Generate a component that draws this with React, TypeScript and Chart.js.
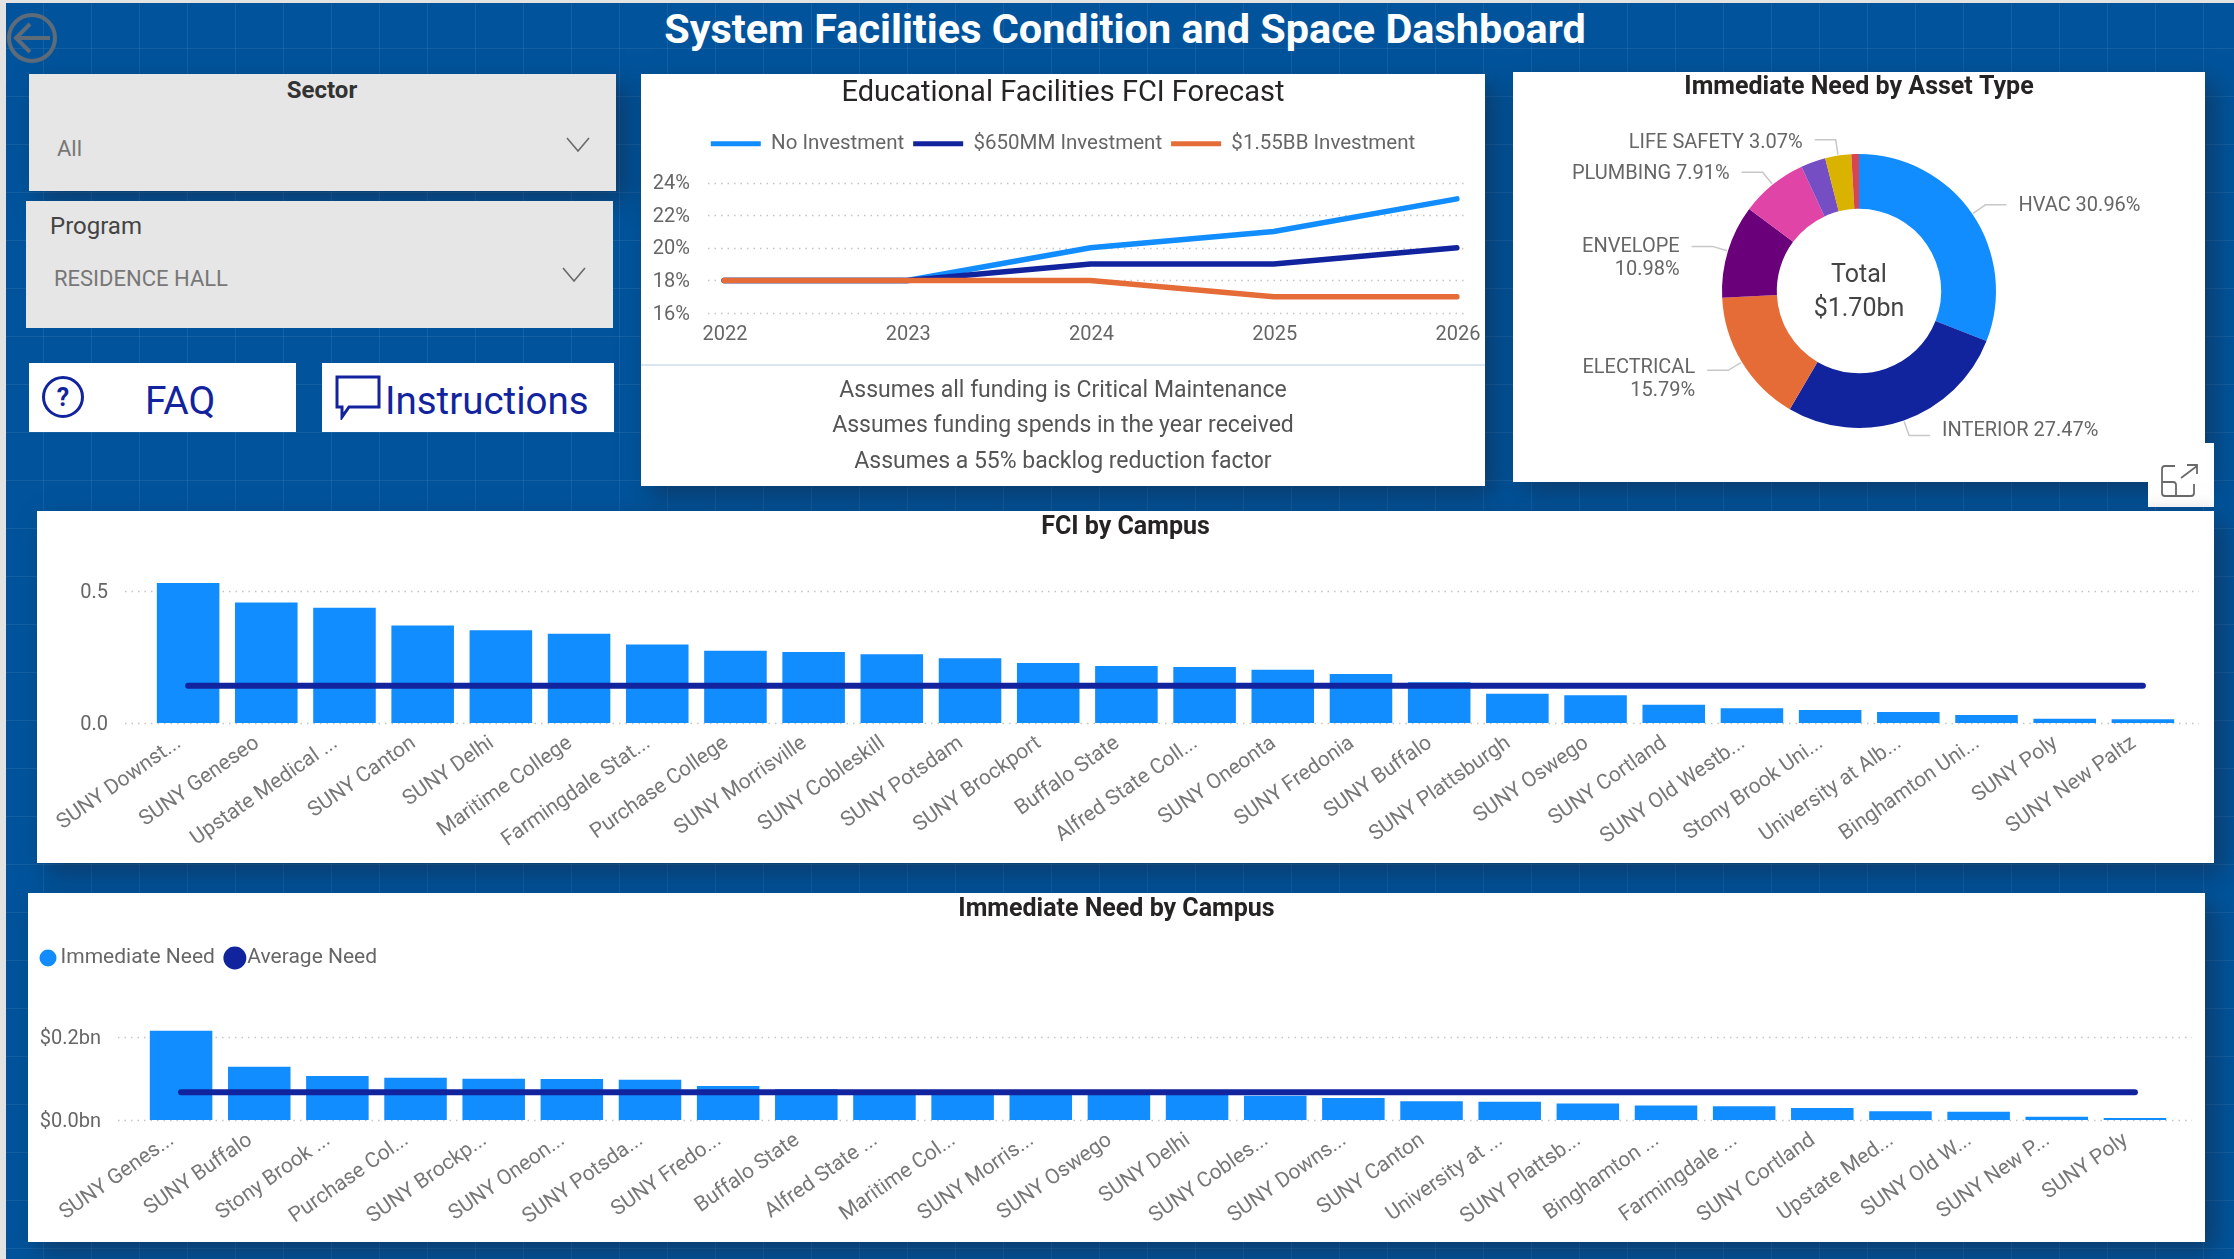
import React, { useEffect, useRef } from "react";
import { Chart, registerables } from "chart.js";

Chart.register(...registerables);

const BLUE = "#118DFF";
const NAVY = "#12239E";
const ORANGE = "#E66C37";
const FONT = "Roboto, 'Noto Sans', sans-serif";

// ---- Forecast ----
const forecastYears = ["2022", "2023", "2024", "2025", "2026"];
const noInvestment = [18, 18, 20, 21, 23];
const midInvestment = [18, 18, 19, 19, 20];
const highInvestment = [18, 18, 18, 17, 17];
const forecastNotes = [
  "Assumes all funding is Critical Maintenance",
  "Assumes funding spends in the year received",
  "Assumes a 55% backlog reduction factor",
];

// ---- Donut ----
const assetTypes = ["HVAC", "INTERIOR", "ELECTRICAL", "ENVELOPE", "PLUMBING", "Unlabelled A", "LIFE SAFETY", "Unlabelled B"];
const assetShares = [30.96, 27.47, 15.79, 10.98, 7.91, 2.92, 3.07, 0.9];
const assetColors = [BLUE, NAVY, ORANGE, "#6B007B", "#E044A7", "#744EC2", "#D9B300", "#D64550"];
const assetLabelLines = [
  ["HVAC 30.96%"],
  ["INTERIOR 27.47%"],
  ["ELECTRICAL", "15.79%"],
  ["ENVELOPE", "10.98%"],
  ["PLUMBING 7.91%"],
  [],
  ["LIFE SAFETY 3.07%"],
  [],
];
const donutCenterLines = ["Total", "$1.70bn"];

// ---- FCI by campus ----
const fciCampuses = [
  "SUNY Downst...", "SUNY Geneseo", "Upstate Medical ...", "SUNY Canton", "SUNY Delhi", "Maritime College",
  "Farmingdale Stat...", "Purchase College", "SUNY Morrisville", "SUNY Cobleskill", "SUNY Potsdam", "SUNY Brockport",
  "Buffalo State", "Alfred State Coll...", "SUNY Oneonta", "SUNY Fredonia", "SUNY Buffalo", "SUNY Plattsburgh",
  "SUNY Oswego", "SUNY Cortland", "SUNY Old Westb...", "Stony Brook Uni...", "University at Alb...", "Binghamton Uni...",
  "SUNY Poly", "SUNY New Paltz",
];
const fciValues = [
  0.53, 0.456, 0.437, 0.369, 0.351, 0.338, 0.297, 0.274, 0.269, 0.26, 0.245, 0.227, 0.216, 0.212, 0.202, 0.186,
  0.154, 0.111, 0.105, 0.069, 0.056, 0.049, 0.042, 0.03, 0.016, 0.014,
];
const fciAverage = [
  0.141, 0.141, 0.141, 0.141, 0.141, 0.141, 0.141, 0.141, 0.141, 0.141, 0.141, 0.141, 0.141, 0.141, 0.141, 0.141,
  0.141, 0.141, 0.141, 0.141, 0.141, 0.141, 0.141, 0.141, 0.141, 0.141,
];

// ---- Immediate need by campus ----
const needCampuses = [
  "SUNY Genes...", "SUNY Buffalo", "Stony Brook ...", "Purchase Col...", "SUNY Brockp...", "SUNY Oneon...",
  "SUNY Potsda...", "SUNY Fredo...", "Buffalo State", "Alfred State ...", "Maritime Col...", "SUNY Morris...",
  "SUNY Oswego", "SUNY Delhi", "SUNY Cobles...", "SUNY Downs...", "SUNY Canton", "University at ...",
  "SUNY Plattsb...", "Binghamton ...", "Farmingdale ...", "SUNY Cortland", "Upstate Med...", "SUNY Old W...",
  "SUNY New P...", "SUNY Poly",
];
const needValues = [
  0.215, 0.1285, 0.106, 0.102, 0.0996, 0.099, 0.097, 0.082, 0.074, 0.068, 0.067, 0.066, 0.065, 0.062, 0.0586,
  0.053, 0.045, 0.044, 0.04, 0.035, 0.033, 0.029, 0.021, 0.02, 0.008, 0.005,
];
const needAverage = [
  0.0667, 0.0667, 0.0667, 0.0667, 0.0667, 0.0667, 0.0667, 0.0667, 0.0667, 0.0667, 0.0667, 0.0667, 0.0667, 0.0667,
  0.0667, 0.0667, 0.0667, 0.0667, 0.0667, 0.0667, 0.0667, 0.0667, 0.0667, 0.0667, 0.0667, 0.0667,
];

// Dotted horizontal gridlines that reach past the plot area, as in Power BI.
const dottedGrid = {
  id: "dottedGrid",
  beforeDatasetsDraw(chart: any, _a: any, opts: any) {
    const { ctx, chartArea, scales } = chart;
    ctx.save();
    ctx.strokeStyle = "#c4c4c4";
    ctx.lineWidth = 1.5;
    ctx.setLineDash([1.5, 5]);
    for (const t of scales.y.ticks) {
      const y = Math.round(scales.y.getPixelForValue(t.value)) + 0.5;
      ctx.beginPath();
      ctx.moveTo(chartArea.left - opts.before, y);
      ctx.lineTo(chartArea.right + opts.after, y);
      ctx.stroke();
    }
    ctx.restore();
  },
};

const donutAnnotations = {
  id: "donutAnnotations",
  afterDatasetsDraw(chart: any) {
    const { ctx } = chart;
    const arcs = chart.getDatasetMeta(0).data;
    const cx = arcs[0].x;
    const cy = arcs[0].y;
    const r = arcs[0].outerRadius;
    ctx.save();
    arcs.forEach((arc: any, i: number) => {
      const lines = assetLabelLines[i];
      if (!lines.length) return;
      const mid = (arc.startAngle + arc.endAngle) / 2;
      const ax = cx + Math.cos(mid) * (r + 1);
      const ay = cy + Math.sin(mid) * (r + 1);
      const ex = cx + Math.cos(mid) * (r + 16);
      const ey = cy + Math.sin(mid) * (r + 16);
      const dir = Math.cos(mid) >= 0 ? 1 : -1;
      const hx = ex + dir * 21;
      ctx.strokeStyle = "#c8c8c8";
      ctx.lineWidth = 1.5;
      ctx.beginPath();
      ctx.moveTo(ax, ay);
      ctx.lineTo(ex, ey);
      ctx.lineTo(hx, ey);
      ctx.stroke();
      ctx.fillStyle = "#666666";
      ctx.font = `20px ${FONT}`;
      ctx.textBaseline = "middle";
      ctx.textAlign = dir > 0 ? "left" : "right";
      const textY = ey - 0.7 - 3.6 * Math.sin(mid);
      lines.forEach((t: string, k: number) => ctx.fillText(t, hx + dir * 12, textY + k * 23));
    });
    ctx.fillStyle = "#444444";
    ctx.font = `25px ${FONT}`;
    ctx.textAlign = "center";
    ctx.textBaseline = "middle";
    ctx.fillText(donutCenterLines[0], cx, cy - 15);
    ctx.fillText(donutCenterLines[1], cx, cy + 19);
    ctx.restore();
  },
};

function noStrokeLabels(chart: any) {
  return (Chart as any).defaults.plugins.legend.labels.generateLabels(chart).map((l: any) => ({ ...l, lineWidth: 0 }));
}

// Empty right-hand axis: reserves the right margin without moving the title's or legend's centre.
const rightGutter = (w: number) => ({
  type: "linear",
  position: "right",
  display: true,
  grid: { display: false },
  border: { display: false },
  ticks: { display: false },
  afterFit: (s: any) => { s.width = w; },
});

function campusChart(
  canvas: HTMLCanvasElement,
  o: {
    title: string;
    labels: string[];
    values: number[];
    average: number[];
    barLabel: string;
    lineLabel: string;
    yMax: number;
    yStep: number;
    yWidth: number;
    yPad: number;
    xHeight: number;
    padRight: number;
    titlePad: any;
    legend: any;
    gridBefore: number;
    gridAfter: number;
    fmt: (v: number) => string;
  }
) {
  return new Chart(canvas, {
    type: "bar",
    data: {
      labels: o.labels,
      datasets: [
        { type: "bar", label: o.barLabel, data: o.values, backgroundColor: BLUE, barPercentage: 0.8, categoryPercentage: 1, order: 1 },
        {
          type: "line",
          label: o.lineLabel,
          data: o.average,
          borderColor: NAVY,
          backgroundColor: NAVY,
          borderWidth: 6,
          borderCapStyle: "round",
          pointRadius: 0,
          order: 0,
        },
      ],
    } as any,
    options: {
      animation: false,
      responsive: false,
      devicePixelRatio: 1,
      plugins: {
        title: { display: true, text: o.title, color: "#252423", font: { size: 25, weight: "bold" }, padding: o.titlePad },
        legend: o.legend,
        tooltip: { enabled: false },
        dottedGrid: { before: o.gridBefore, after: o.gridAfter },
      } as any,
      scales: {
        x: {
          offset: true,
          grid: { display: false },
          border: { display: false },
          afterFit: (s: any) => { s.height = o.xHeight; },
          ticks: { autoSkip: false, minRotation: 35, maxRotation: 35, color: "#777777", padding: 0, labelOffset: -9, font: { size: 21 } },
        },
        y: {
          min: 0,
          max: o.yMax,
          grid: { display: false, drawTicks: false },
          border: { display: false },
          afterFit: (s: any) => { s.width = o.yWidth; },
          ticks: { stepSize: o.yStep, includeBounds: false, color: "#666666", padding: o.yPad, labelOffset: 1.5, font: { size: 20 }, callback: (v: any) => o.fmt(Number(v)) },
        },
        gutter: rightGutter(o.padRight),
      },
    } as any,
    plugins: [dottedGrid],
  });
}

const abs = (x: number, y: number, w: number, h: number, extra: React.CSSProperties = {}): React.CSSProperties => ({
  position: "absolute",
  left: x,
  top: y,
  width: w,
  height: h,
  ...extra,
});
const SHADOW = "10px 10px 24px rgba(25,35,60,0.5)";

function Label(p: { x: number; y: number; size: number; color: string; bold?: boolean; center?: boolean; children: any }) {
  return (
    <div
      style={{
        position: "absolute",
        left: p.x,
        top: p.y,
        transform: p.center ? "translate(-50%,-50%)" : "translateY(-50%)",
        fontSize: p.size,
        fontWeight: p.bold ? 700 : 400,
        color: p.color,
        whiteSpace: "nowrap",
        lineHeight: 1,
      }}
    >
      {p.children}
    </div>
  );
}

function Chevron({ x, y }: { x: number; y: number }) {
  return (
    <svg style={abs(x, y, 24, 16)} viewBox="0 0 24 16">
      <path d="M1 1 L12 14 L23 1" fill="none" stroke="#6a6a6a" strokeWidth="1.6" />
    </svg>
  );
}

export default function App() {
  const forecastRef = useRef<HTMLCanvasElement>(null);
  const donutRef = useRef<HTMLCanvasElement>(null);
  const fciRef = useRef<HTMLCanvasElement>(null);
  const needRef = useRef<HTMLCanvasElement>(null);

  useEffect(() => {
    Chart.defaults.font.family = FONT;
    const charts: Chart[] = [];

    charts.push(
      new Chart(forecastRef.current!, {
        type: "line",
        data: {
          labels: forecastYears,
          datasets: [
            { label: "No Investment", data: noInvestment, borderColor: BLUE, backgroundColor: BLUE, order: 3 },
            { label: "$650MM Investment", data: midInvestment, borderColor: NAVY, backgroundColor: NAVY, order: 2 },
            { label: "$1.55BB Investment", data: highInvestment, borderColor: ORANGE, backgroundColor: ORANGE, order: 1 },
          ],
        },
        options: {
          animation: false,
          responsive: false,
          devicePixelRatio: 1,
          elements: { line: { borderWidth: 5.5, tension: 0, borderCapStyle: "round" }, point: { radius: 0 } },
          plugins: {
            title: {
              display: true,
              text: "Educational Facilities FCI Forecast",
              color: "#252423",
              font: { size: 29, weight: "normal" },
              padding: { top: 2.6, bottom: 13.1 },
            },
            legend: {
              display: true,
              position: "top",
              labels: {
                boxWidth: 50,
                boxHeight: 5,
                padding: 9,
                color: "#666666",
                font: { size: 20.5 },
                generateLabels: noStrokeLabels,
                sort: (a: any, b: any) => a.datasetIndex - b.datasetIndex,
              },
            },
            tooltip: { enabled: false },
            dottedGrid: { before: 16, after: 11 },
          } as any,
          scales: {
            x: {
              offset: false,
              grid: { display: false },
              border: { display: false },
              afterFit: (s: any) => { s.height = 173; },
              ticks: { color: "#666666", padding: 2, maxRotation: 0, labelOffset: 1, font: { size: 20 } },
            },
            y: {
              min: 16,
              max: 25.14,
              grid: { display: false, drawTicks: false },
              border: { display: false },
              afterFit: (s: any) => { s.width = 83; },
              ticks: { stepSize: 2, includeBounds: false, color: "#666666", padding: 34, labelOffset: 1.5, font: { size: 20 }, callback: (v: any) => `${v}%` },
            },
            gutter: rightGutter(28),
          },
        } as any,
        plugins: [dottedGrid],
      })
    );

    charts.push(
      new Chart(donutRef.current!, {
        type: "doughnut",
        data: {
          labels: assetTypes,
          datasets: [{ data: assetShares, backgroundColor: assetColors, borderWidth: 0 }],
        },
        options: {
          animation: false,
          responsive: false,
          devicePixelRatio: 1,
          cutout: "60%",
          layout: { padding: { bottom: 54 } },
          plugins: {
            title: {
              display: true,
              text: "Immediate Need by Asset Type",
              color: "#252423",
              font: { size: 25, weight: "bold" },
              padding: { top: 1, bottom: 51 },
            },
            legend: { display: false },
            tooltip: { enabled: false },
          },
        } as any,
        plugins: [donutAnnotations],
      })
    );

    charts.push(
      campusChart(fciRef.current!, {
        title: "FCI by Campus",
        labels: fciCampuses,
        values: fciValues,
        average: fciAverage,
        barLabel: "FCI",
        lineLabel: "Average FCI",
        yMax: 0.55,
        yStep: 0.5,
        yWidth: 112,
        yPad: 41,
        xHeight: 140,
        padRight: 32,
        titlePad: { top: 2, bottom: 34.8 },
        legend: { display: false },
        gridBefore: 24,
        gridAfter: 17,
        fmt: (v) => v.toFixed(1),
      })
    );

    charts.push(
      campusChart(needRef.current!, {
        title: "Immediate Need by Campus",
        labels: needCampuses,
        values: needValues,
        average: needAverage,
        barLabel: "Immediate Need",
        lineLabel: "Average Need",
        yMax: 0.341,
        yStep: 0.2,
        yWidth: 114,
        yPad: 41,
        xHeight: 122,
        padRight: 31,
        titlePad: { top: 2, bottom: 4.5 },
        legend: {
          display: true,
          position: "top",
          align: "start",
          labels: {
            usePointStyle: true,
            pointStyle: "circle",
            boxWidth: 4,
            boxHeight: 12,
            padding: 18,
            color: "#666666",
            font: { size: 21 },
            sort: (a: any, b: any) => a.datasetIndex - b.datasetIndex,
          },
        },
        gridBefore: 24,
        gridAfter: 18,
        fmt: (v) => `$${v.toFixed(1)}bn`,
      })
    );

    return () => charts.forEach((c) => c.destroy());
  }, []);

  return (
    <div
      style={{
        position: "fixed",
        left: 0,
        top: 0,
        width: 2234,
        height: 1259,
        overflow: "hidden",
        fontFamily: FONT,
        backgroundColor: "#e3e3e3",
      }}
    >
      <div
        style={abs(6, 3, 2228, 1256, {
          backgroundColor: "#01549c",
          backgroundImage:
            "linear-gradient(rgba(255,255,255,0.07) 1.5px, transparent 1.5px), linear-gradient(90deg, rgba(255,255,255,0.07) 1.5px, transparent 1.5px)",
          backgroundSize: "48px 48px",
          backgroundPosition: "-11px -3px",
        })}
      />

      <div
        style={{
          position: "absolute",
          left: 1125,
          top: 30,
          transform: "translate(-50%,-50%)",
          color: "#ffffff",
          fontSize: 41.4,
          fontWeight: 700,
          whiteSpace: "nowrap",
          lineHeight: 1,
        }}
      >
        System Facilities Condition and Space Dashboard
      </div>

      <svg style={abs(6, 12, 54, 54)} viewBox="0 0 54 54">
        <circle cx="26" cy="26" r="23" fill="none" stroke="#5e6b78" strokeWidth="4" />
        <path d="M44 26 H11 M24 12 L10 26 L24 40" fill="none" stroke="#5e6b78" strokeWidth="4" />
      </svg>

      {/* Slicers */}
      <div style={abs(29, 74, 587, 117, { background: "#e6e6e6", boxShadow: SHADOW })} />
      <Label x={322} y={90} size={24} color="#333333" bold center>Sector</Label>
      <Label x={57} y={149} size={22} color="#777777">All</Label>
      <Chevron x={566} y={137} />

      <div style={abs(26, 201, 587, 127, { background: "#e6e6e6" })} />
      <Label x={50} y={226} size={24} color="#444444">Program</Label>
      <Label x={54} y={279} size={22} color="#777777">RESIDENCE HALL</Label>
      <Chevron x={562} y={267} />

      {/* Buttons */}
      <div style={abs(29, 363, 267, 69, { background: "#ffffff" })} />
      <svg style={abs(41, 375, 44, 44)} viewBox="0 0 44 44">
        <circle cx="22" cy="22" r="19.5" fill="none" stroke={NAVY} strokeWidth="3" />
        <text x="22" y="31" textAnchor="middle" fontSize="25" fontWeight="700" fontFamily={FONT} fill={NAVY}>?</text>
      </svg>
      <Label x={145} y={401} size={39} color={NAVY}>FAQ</Label>

      <div style={abs(322, 363, 292, 69, { background: "#ffffff" })} />
      <svg style={abs(334, 374, 48, 46)} viewBox="0 0 48 46">
        <path d="M3 3 H45 V33 H15 L8 43 V33 H3 Z" fill="none" stroke={NAVY} strokeWidth="3" />
      </svg>
      <Label x={385} y={401} size={38.5} color={NAVY}>Instructions</Label>

      {/* Forecast panel */}
      <div style={abs(641, 74, 844, 412, { background: "#ffffff", boxShadow: SHADOW })}>
        <canvas ref={forecastRef} width={844} height={412} style={{ display: "block" }} />
        <div style={abs(0, 290, 844, 2, { background: "#dbe6f3" })} />
      </div>
      <Label x={1063} y={389} size={23} color="#555555" center>{forecastNotes[0]}</Label>
      <Label x={1063} y={424} size={23} color="#555555" center>{forecastNotes[1]}</Label>
      <Label x={1063} y={460} size={23} color="#555555" center>{forecastNotes[2]}</Label>

      {/* Donut panel */}
      <div style={abs(1513, 72, 692, 410, { background: "#ffffff", boxShadow: SHADOW })}>
        <canvas ref={donutRef} width={692} height={410} style={{ display: "block" }} />
      </div>
      <div style={abs(2148, 443, 66, 64, { background: "#ffffff" })} />
      <svg style={abs(2161, 464, 38, 34)} viewBox="0 0 38 34">
        <path d="M14 2 H4 Q1 2 1 5 V29 Q1 32 4 32 H30 Q33 32 33 29 V20 M1 18 H12 Q15 18 15 21 V32 M20 14 L36 2 M26 1 H36 V10" fill="none" stroke="#6a6a6a" strokeWidth="1.8" />
      </svg>

      {/* FCI panel */}
      <div style={abs(37, 511, 2177, 352, { background: "#ffffff", boxShadow: SHADOW })}>
        <canvas ref={fciRef} width={2177} height={352} style={{ display: "block" }} />
      </div>

      {/* Immediate need panel */}
      <div style={abs(28, 893, 2177, 349, { background: "#ffffff", boxShadow: SHADOW })}>
        <canvas ref={needRef} width={2177} height={349} style={{ display: "block" }} />
      </div>
    </div>
  );
}
